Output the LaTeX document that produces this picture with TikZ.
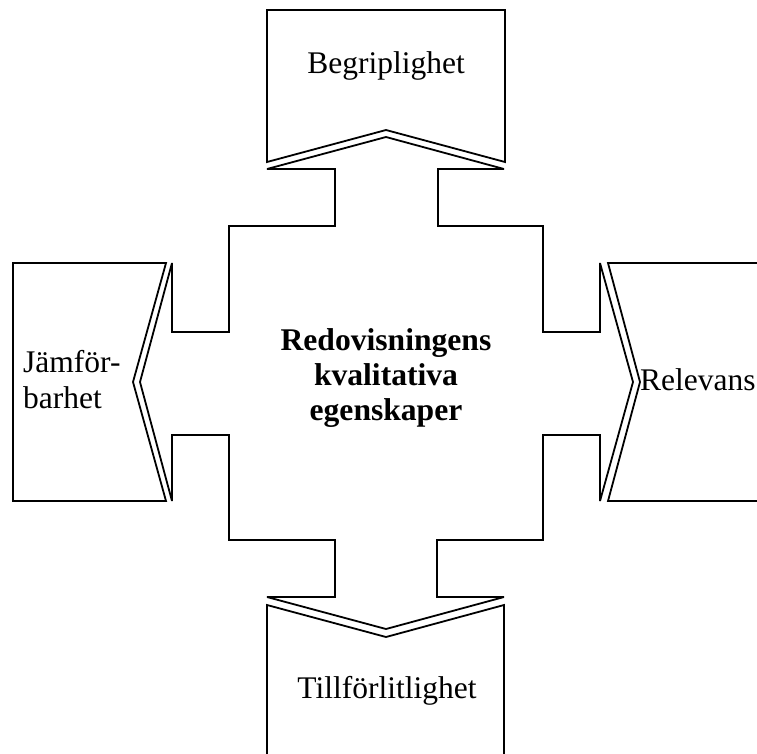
\documentclass[tikz,border=0pt]{standalone}
\usepackage{fontspec}
\setmainfont{Liberation Serif}
\begin{document}
\begin{tikzpicture}[x=1pt,y=-1pt]
\tikzset{
  outline/.style={draw=black, line width=1.8pt, line join=miter, miter limit=4},
  lbl/.style={font=\fontsize{31.5}{36}\selectfont, inner sep=0pt},
  title/.style={font=\fontsize{31.6}{35}\selectfont\bfseries, inner sep=0pt, align=center}
}
\useasboundingbox (0,0) rectangle (757,753);
\clip (0,0) rectangle (757,753);
% central cross with four arrow heads
\draw[outline] (229,226) -- (335,226) -- (335,169) -- (267,169) -- (386,137) -- (504,169)
  -- (438,169) -- (438,226) -- (543,226) -- (543,332) -- (600,332) -- (600,263)
  -- (633,382) -- (600,501) -- (600,435) -- (543,435) -- (543,540) -- (437,540)
  -- (437,597) -- (504,597) -- (386,629) -- (267,597) -- (335,597) -- (335,540)
  -- (229,540) -- (229,435) -- (172,435) -- (172,501) -- (140,382) -- (172,263)
  -- (172,332) -- (229,332) -- cycle;
% top box
\draw[outline] (267,162) -- (267,10) -- (505,10) -- (505,162) -- (386,130) -- cycle;
% left box
\draw[outline] (166,263) -- (13,263) -- (13,501) -- (166,501) -- (133,382) -- cycle;
% right box
\draw[outline] (770,263) -- (608,263) -- (640,382) -- (608,501) -- (770,501);
% bottom box
\draw[outline] (267,770) -- (267,605) -- (386,637) -- (504,605) -- (504,770);
% texts
\node[lbl, anchor=base] (begr) at (386,73) {Begriplighet};
\node[lbl, anchor=base west] (jam1) at (23,372) {Jämför-};
\node[lbl, anchor=base west] (jam2) at (23,408) {barhet};
\node[lbl, anchor=base west] (rel) at (640,390) {Relevans};
\node[lbl, anchor=base] (till) at (387,698) {Tillförlitlighet};
\node[title, anchor=base] (center) at (386,350) {Redovisningens};
\node[title, anchor=base] (center2) at (386,385) {kvalitativa};
\node[title, anchor=base] (center3) at (386,420) {egenskaper};
\end{tikzpicture}
\end{document}
